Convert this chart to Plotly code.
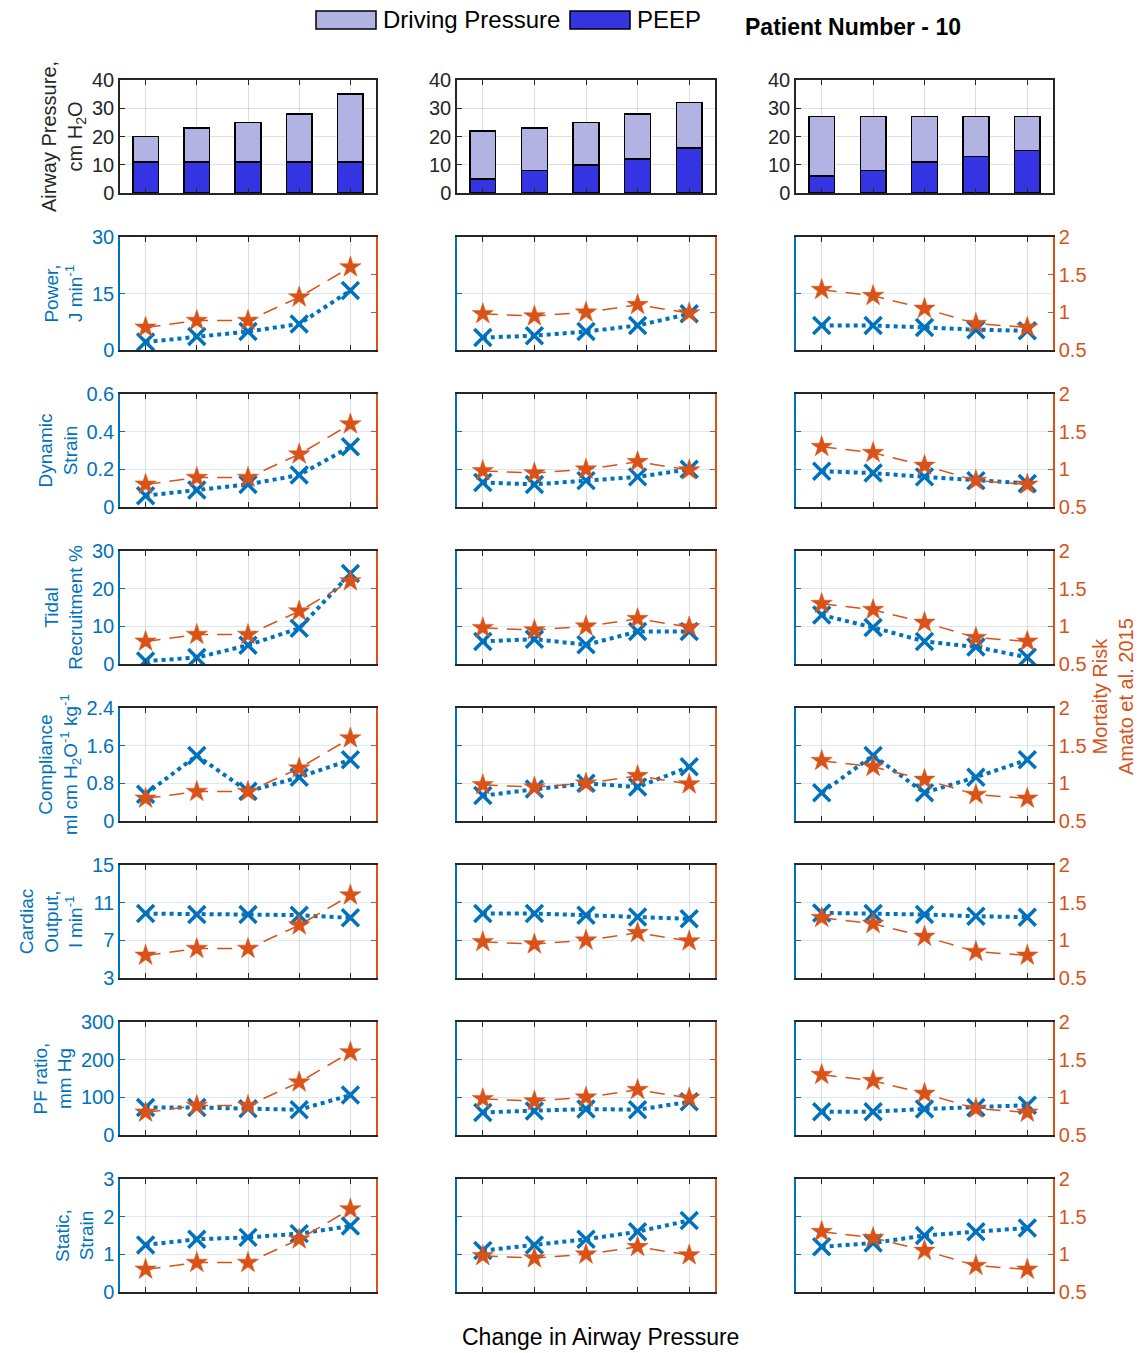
import plotly.graph_objects as go
from plotly.subplots import make_subplots

# x categories (steps of airway pressure change)
steps = [1, 2, 3, 4, 5]

# top row: stacked airway pressure bars, one list per column
peep = [[11, 11, 11, 11, 11], [5, 8, 10, 12, 16], [6, 8, 11, 13, 15]]
driving = [[9, 12, 14, 17, 24], [17, 15, 15, 16, 16], [21, 19, 16, 14, 12]]

# right axis series, identical in every row of a column
mortality = [[0.80, 0.89, 0.89, 1.20, 1.60],
             [0.98, 0.95, 1.00, 1.10, 0.99],
             [1.30, 1.22, 1.05, 0.85, 0.80]]

# left axis series
power = [[2.1, 3.6, 4.9, 6.9, 15.8], [3.3, 3.8, 4.9, 6.5, 9.6], [6.5, 6.5, 6.0, 5.4, 5.1]]
dyn_strain = [[0.06, 0.09, 0.12, 0.17, 0.32], [0.13, 0.12, 0.14, 0.16, 0.20], [0.19, 0.18, 0.16, 0.14, 0.125]]
tidal = [[0.8, 1.7, 5.0, 9.5, 24.0], [6.0, 6.6, 5.1, 8.6, 8.6], [13.0, 9.7, 6.0, 4.5, 1.8]]
compliance = [[0.57, 1.39, 0.63, 0.93, 1.30], [0.54, 0.68, 0.80, 0.72, 1.15], [0.60, 1.39, 0.60, 0.93, 1.30]]
cardiac = [[9.84, 9.74, 9.74, 9.67, 9.39], [9.84, 9.84, 9.67, 9.49, 9.28], [9.91, 9.84, 9.74, 9.56, 9.46]]
pf_ratio = [[73, 73, 70, 67, 106], [60, 64, 69, 67, 88], [62, 62, 69, 73, 79]]
static_strain = [[1.25, 1.40, 1.45, 1.55, 1.75], [1.10, 1.25, 1.40, 1.60, 1.90], [1.20, 1.30, 1.50, 1.60, 1.70]]

row_titles = ["Power,<br>J min<sup>-1</sup>", "Dynamic<br>Strain", "Tidal<br>Recruitment %",
              "Compliance<br>ml cm H<sub>2</sub>O<sup>-1</sup> kg<sup>-1</sup>",
              "Cardiac<br>Output,<br>l min<sup>-1</sup>", "PF ratio,<br>mm Hg", "Static,<br>Strain"]
row_series = [power, dyn_strain, tidal, compliance, cardiac, pf_ratio, static_strain]
row_ticks = [[0, 15, 30], [0, 0.2, 0.4, 0.6], [0, 10, 20, 30], [0, 0.8, 1.6, 2.4],
             [3, 7, 11, 15], [0, 100, 200, 300], [0, 1, 2, 3]]
risk_ticks = [0.5, 1, 1.5, 2]
bar_ticks = [0, 10, 20, 30, 40]

BLUE = "#0072BD"
ORANGE = "#D95319"
DARK = "#262626"
FONT = "Liberation Sans, Arial, sans-serif"

W, H = 1138, 1353
ML, MR, MT, MB = 120, 85, 80, 61
PW, PH = W - ML - MR, H - MT - MB


def px(x, y):
    return (x - ML) / PW, 1 - (y - MT) / PH


specs = [[{}, {}, {}]] + [[{"secondary_y": True}] * 3 for _ in range(7)]
fig = make_subplots(rows=8, cols=3, specs=specs,
                    horizontal_spacing=81 / PW, vertical_spacing=44 / PH)

# top row bars
for c in range(3):
    fig.add_trace(go.Bar(x=steps, y=peep[c], name="PEEP", width=0.5,
                         marker=dict(color="#3434E3", line=dict(color="black", width=1.5)),
                         showlegend=False), row=1, col=c + 1)
    fig.add_trace(go.Bar(x=steps, y=driving[c], name="Driving Pressure", width=0.5,
                         marker=dict(color="#B3B3E3", line=dict(color="black", width=1.5)),
                         showlegend=False), row=1, col=c + 1)
    fig.update_yaxes(range=[0, 40], tickvals=bar_ticks, showline=True, mirror=True,
                     linecolor=DARK, linewidth=1.5, ticks="inside", ticklen=5, tickcolor=DARK,
                     showgrid=True, gridcolor="rgba(0,0,0,0.12)", zeroline=False,
                     automargin=False,
                     tickfont=dict(size=20, color=DARK, family=FONT), row=1, col=c + 1)

fig.update_yaxes(title=dict(text="Airway Pressure,<br>cm H<sub>2</sub>O",
                            font=dict(size=20, color=DARK, family=FONT), standoff=4),
                 row=1, col=1)

# line rows
for r in range(7):
    ticks = row_ticks[r]
    for c in range(3):
        fig.add_trace(go.Scatter(x=steps, y=mortality[c], mode="lines+markers",
                                 line=dict(color=ORANGE, width=1.5, dash="15px,9px"),
                                 marker=dict(symbol="star", size=16, color=ORANGE,
                                             line=dict(color=ORANGE, width=0.5)),
                                 showlegend=False),
                      row=r + 2, col=c + 1, secondary_y=True)
        fig.add_trace(go.Scatter(x=steps, y=row_series[r][c], mode="lines+markers",
                                 line=dict(color=BLUE, width=4, dash="dot"),
                                 marker=dict(symbol="x-thin", size=17,
                                             line=dict(color=BLUE, width=3.5)),
                                 showlegend=False),
                      row=r + 2, col=c + 1, secondary_y=False)
        fig.update_yaxes(range=[ticks[0], ticks[-1]], tickvals=ticks,
                         showticklabels=(c == 0), showline=True, linecolor=BLUE, linewidth=1.5,
                         ticks="inside", ticklen=5, tickcolor=BLUE, zeroline=False,
                         showgrid=True, gridcolor="rgba(0,114,189,0.15)", automargin=False,
                         tickfont=dict(size=20, color=BLUE, family=FONT),
                         row=r + 2, col=c + 1, secondary_y=False)
        fig.update_yaxes(range=[0.5, 2], tickvals=risk_ticks,
                         showticklabels=(c == 2), showline=True, linecolor=ORANGE, linewidth=1.5,
                         ticks="inside", ticklen=5, tickcolor=ORANGE, zeroline=False,
                         showgrid=False, automargin=False,
                         tickfont=dict(size=20, color=ORANGE, family=FONT),
                         row=r + 2, col=c + 1, secondary_y=True)
    fig.update_yaxes(title=dict(text=row_titles[r], font=dict(size=19, color=BLUE, family=FONT),
                                standoff=4),
                     row=r + 2, col=1, secondary_y=False)

fig.update_xaxes(range=[0.5, 5.5], tickvals=steps, showticklabels=False, showline=True,
                 mirror="ticks", linecolor=DARK, linewidth=1.5, ticks="inside", ticklen=5,
                 tickcolor=DARK, showgrid=True, gridcolor="rgba(0,0,0,0.13)", zeroline=False,
                 automargin=False)

# secondary_y specs shrink the columns, so pin them to the reference widths
col_px = [(120, 376), (457, 715), (796, 1053)]
for c, (x0, x1) in enumerate(col_px):
    fig.update_xaxes(domain=[px(x0, 0)[0], min(px(x1, 0)[0], 1.0)], col=c + 1)

# legend drawn by hand to get the wide MATLAB swatches
for x0, color, label in [(316, "#B3B3E3", "Driving Pressure"), (570, "#3434E3", "PEEP")]:
    a, b = px(x0, 11)
    a2, b2 = px(x0 + 60, 29)
    fig.add_shape(type="rect", xref="paper", yref="paper", x0=a, y0=b2, x1=a2, y1=b,
                  fillcolor=color, line=dict(color="black", width=1.5))
    tx, ty = px(x0 + 65, 19)
    fig.add_annotation(x=tx, y=ty, xref="paper", yref="paper", text=label, showarrow=False,
                       xanchor="left", yanchor="middle",
                       font=dict(size=24, color="black", family=FONT))

tx, ty = px(743, 27)
fig.add_annotation(x=tx, y=ty, xref="paper", yref="paper", text="<b>Patient Number - 10</b>",
                   showarrow=False, xanchor="left", yanchor="middle",
                   font=dict(size=23, color="black", family=FONT))

tx, ty = px(600, 1337)
fig.add_annotation(x=tx, y=ty, xref="paper", yref="paper", text="Change in Airway Pressure",
                   showarrow=False, xanchor="center", yanchor="middle",
                   font=dict(size=23, color="black", family=FONT))

tx, ty = px(1113, 697)
fig.add_annotation(x=tx, y=ty, xref="paper", yref="paper",
                   text="Mortaity Risk<br>Amato et al. 2015", textangle=-90,
                   showarrow=False, xanchor="center", yanchor="middle",
                   font=dict(size=20, color=ORANGE, family=FONT))

fig.update_layout(width=W, height=H, barmode="stack",
                  margin=dict(l=ML, r=MR, t=MT, b=MB, autoexpand=False),
                  plot_bgcolor="white", paper_bgcolor="white",
                  font=dict(family=FONT), showlegend=False)

fig.write_html("out.html", config={"displayModeBar": False},
               post_script="document.body.style.margin='0';")
